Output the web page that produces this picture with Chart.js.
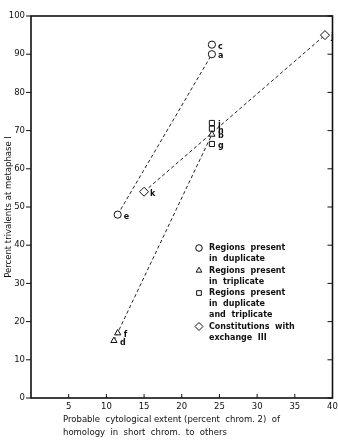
<!DOCTYPE html>
<html>
<head>
<meta charset="utf-8">
<script src="https://cdn.jsdelivr.net/npm/chart.js@4"></script>
<style>
  html, body { margin: 0; padding: 0; background: #fff; }
  #wrap { width: 338px; height: 440px; }
</style>
</head>
<body>
<div id="wrap"><canvas id="grafico"></canvas></div>
<script>
// Dados
const circX = [24, 24, 11.5];
const circY = [92.5, 90, 48];
const circLbl = ['c', 'a', 'e'];

const triX = [11.5, 11, 24];
const triY = [17, 15, 69];
const triLbl = ['f', 'd', 'b'];

const sqX = [24, 24, 24];
const sqY = [72, 70.5, 66.5];
const sqLbl = ['i', 'h', 'g'];

const diaX = [15, 39];
const diaY = [54, 95];
const diaLbl = ['k', 'j'];

// linhas tracejadas (pares de pontos)
const lineDup = [[11.5, 48], [24, 90]];
const lineTri = [[11, 15], [24, 69]];
const lineExc = [[15, 54], [39, 95]];

const xTicks = [5, 10, 15, 20, 25, 30, 35, 40];
const yTicks = [0, 10, 20, 30, 40, 50, 60, 70, 80, 90, 100];

const yTitle = 'Percent trivalents at metaphase I';
const xTitle = ['Probable  cytological extent (percent  chrom. 2)  of', 'homology  in  short  chrom.  to  others'];

const legendItems = [
  { style: 'circle', lines: ['Regions  present', 'in  duplicate'] },
  { style: 'triangle', lines: ['Regions  present', 'in  triplicate'] },
  { style: 'rect', lines: ['Regions  present', 'in  duplicate', 'and  triplicate'] },
  { style: 'rectRot', lines: ['Constitutions  with', 'exchange  III'] }
];

const FONT = '"DejaVu Sans", sans-serif';

function pts(xs, ys) {
  return xs.map((x, i) => ({ x: x, y: ys[i] }));
}
function seg(p) {
  return p.map(v => ({ x: v[0], y: v[1] }));
}

function markerSet(label, xs, ys, lbls, style) {
  return {
    label: label,
    data: pts(xs, ys),
    letters: lbls,
    pointStyle: style,
    pointRadius: style === 'rectRot' ? 4.5 : 3.6,
    pointBackgroundColor: '#fff',
    pointBorderColor: '#111',
    pointBorderWidth: 1,
    showLine: false
  };
}

function lineSet(p) {
  return {
    data: seg(p),
    showLine: true,
    borderColor: '#222',
    borderWidth: 1,
    borderDash: [3.5, 2.5],
    pointRadius: 0,
    order: 5
  };
}

// plugin: moldura, títulos, letras e legenda
const desenho = {
  id: 'desenho',
  afterDraw(chart) {
    const ctx = chart.ctx;
    const a = chart.chartArea;
    ctx.save();
    // moldura
    ctx.strokeStyle = '#111';
    ctx.lineWidth = 1.6;
    ctx.strokeRect(a.left, a.top, a.right - a.left, a.bottom - a.top);
    // marcas: y dos dois lados, x para dentro
    const ys = chart.scales.y;
    const xs = chart.scales.x;
    ctx.lineWidth = 1;
    yTicks.forEach(v => {
      const py = ys.getPixelForValue(v);
      ctx.beginPath();
      ctx.moveTo(a.right - 5, py);
      ctx.lineTo(a.right, py);
      ctx.moveTo(a.left - 5, py);
      ctx.lineTo(a.left, py);
      ctx.stroke();
    });
    xTicks.forEach(v => {
      const px = xs.getPixelForValue(v);
      ctx.beginPath();
      ctx.moveTo(px, a.bottom);
      ctx.lineTo(px, a.bottom - 4);
      ctx.stroke();
    });

    // letras dos pontos
    ctx.fillStyle = '#111';
    ctx.font = 'bold 8px ' + FONT;
    ctx.textBaseline = 'middle';
    ctx.textAlign = 'left';
    chart.data.datasets.forEach((ds, di) => {
      if (!ds.letters) return;
      const meta = chart.getDatasetMeta(di);
      meta.data.forEach((el, i) => {
        ctx.fillText(ds.letters[i], el.x + 6, el.y + 2);
      });
    });

    // título do eixo y
    ctx.font = '8.5px ' + FONT;
    ctx.save();
    ctx.translate(9, (a.top + a.bottom) / 2);
    ctx.rotate(-Math.PI / 2);
    ctx.textAlign = 'center';
    ctx.fillText(yTitle, 0, 0);
    ctx.restore();

    // título do eixo x
    ctx.textAlign = 'left';
    ctx.font = '8.5px ' + FONT;
    xTitle.forEach((t, i) => {
      ctx.fillText(t, 63, 420 + i * 12.5);
    });

    // legenda
    let y = 248;
    legendItems.forEach(item => {
      ctx.fillStyle = '#fff';
      ctx.strokeStyle = '#111';
      Chart.helpers.drawPoint(ctx, {
        pointStyle: item.style,
        radius: item.style === 'rectRot' ? 4 : 3.3,
        borderWidth: 1
      }, 199, y);
      ctx.fillStyle = '#111';
      ctx.font = 'bold 8px ' + FONT;
      item.lines.forEach(ln => {
        ctx.fillText(ln, 209, y);
        y += 11;
      });
      y += 0.5;
    });
    ctx.restore();
  }
};

new Chart(document.getElementById('grafico'), {
  type: 'scatter',
  data: {
    datasets: [
      markerSet('Regions present in duplicate', circX, circY, circLbl, 'circle'),
      markerSet('Regions present in triplicate', triX, triY, triLbl, 'triangle'),
      markerSet('Regions present in duplicate and triplicate', sqX, sqY, sqLbl, 'rect'),
      markerSet('Constitutions with exchange III', diaX, diaY, diaLbl, 'rectRot'),
      lineSet(lineDup),
      lineSet(lineTri),
      lineSet(lineExc)
    ]
  },
  options: {
    responsive: true,
    maintainAspectRatio: false,
    animation: false,
    layout: { padding: { top: 16, right: 2, left: 0, bottom: 0 } },
    plugins: {
      legend: { display: false },
      tooltip: { enabled: false }
    },
    scales: {
      x: {
        type: 'linear',
        min: 0,
        max: 40,
        afterFit(s) { s.height = 42; s.paddingRight = 5; },
        afterBuildTicks(s) { s.ticks = xTicks.map(v => ({ value: v })); },
        border: { display: false },
        grid: { drawOnChartArea: false, drawTicks: false },
        ticks: { color: '#111', font: { family: FONT, size: 8.5 }, padding: 4 }
      },
      y: {
        type: 'linear',
        min: 0,
        max: 100,
        afterFit(s) { s.width = 31; },
        afterBuildTicks(s) { s.ticks = yTicks.map(v => ({ value: v })); },
        border: { display: false },
        grid: { drawOnChartArea: false, drawTicks: false },
        ticks: { color: '#111', font: { family: FONT, size: 8.5 }, padding: 6 }
      }
    }
  },
  plugins: [desenho]
});
</script>
</body>
</html>
